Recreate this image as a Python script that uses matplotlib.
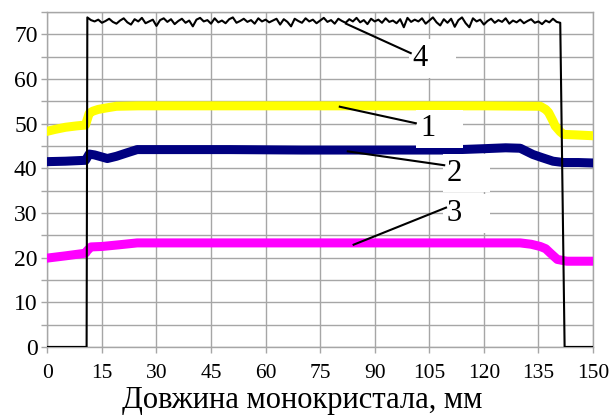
import numpy as np
import matplotlib
matplotlib.use('Agg')
import matplotlib.pyplot as plt
from matplotlib.ticker import MultipleLocator

plt.rcParams['font.family'] = ['Liberation Serif', 'DejaVu Serif']

# curve 1 (yellow)
x1 = [0, 2, 5, 8, 10.5, 11, 11.5, 12.5, 14, 16, 19, 25, 40, 60, 80, 100, 120,
      135.5, 137, 137.8, 139, 139.6, 141, 141.9, 145, 150]
y1 = [48.3, 48.7, 49.2, 49.5, 49.7, 51.0, 52.3, 52.8, 53.2, 53.5, 53.9, 54.0, 54.0,
      54.0, 54.0, 54.0, 54.0, 53.9, 53.2, 52.5, 50.6, 49.5, 48.2, 47.6, 47.5, 47.3]

# curve 2 (navy)
x2 = [0, 5, 10.5, 11.5, 13, 16.5, 19, 22, 24.7, 30, 50, 70, 90, 110, 120, 126,
      130, 133.5, 136, 139, 141.9, 146, 150]
y2 = [41.5, 41.6, 41.8, 43.2, 43.0, 42.2, 42.7, 43.5, 44.2, 44.2, 44.2, 44.1, 44.1,
      44.1, 44.4, 44.6, 44.5, 43.1, 42.4, 41.6, 41.3, 41.3, 41.2]

# curve 3 (magenta)
x3 = [0, 5, 10.5, 11, 12, 15, 20, 24.7, 40, 70, 100, 130, 133, 135.5, 137, 138.3,
      140.2, 142.8, 146, 150]
y3 = [19.9, 20.4, 21.0, 21.6, 22.4, 22.5, 22.9, 23.3, 23.3, 23.3, 23.3, 23.3, 23.0,
      22.5, 22.0, 21.0, 19.6, 19.2, 19.2, 19.2]

# curve 4 (black), noisy plateau sampled every 1 mm from 11 to 141
y4_plateau = [
    73.8, 73.2, 72.9, 73.3, 72.6, 73.0, 73.5, 72.8, 72.4, 73.1,
    73.6, 72.7, 72.2, 73.4, 72.9, 73.7, 72.5, 72.9, 73.3, 71.9,
    73.2, 73.6, 72.8, 73.4, 72.3, 73.0, 73.5, 72.6, 73.1, 71.8,
    73.3, 73.7, 72.9, 73.2, 72.4, 73.6, 72.7, 73.1, 72.5, 73.4,
    73.8, 72.6, 73.0, 73.5, 72.8, 73.2, 72.4, 73.6, 72.9, 73.3,
    72.7, 73.1, 73.5, 72.2, 73.4, 72.8, 71.8, 73.5, 73.0, 72.6,
    73.6, 72.9, 73.3, 72.5, 73.1, 73.7, 72.8, 73.2, 72.4, 73.5,
    73.0, 72.6, 73.4, 72.9, 73.7, 72.7, 73.2, 72.3, 73.5, 72.9,
    73.3, 72.6, 73.6, 72.8, 73.1, 72.5, 73.4, 71.6, 73.7, 72.8,
    73.3, 72.9, 73.6, 72.4, 73.1, 73.8, 72.7, 72.0, 73.4, 72.6,
    73.5, 71.7, 73.2, 73.8, 72.5, 71.6, 73.6, 72.9, 73.3, 72.2,
    73.0, 73.5, 72.6, 73.2, 72.8, 73.6, 72.4, 73.1, 72.7, 73.3,
    72.5, 73.0, 73.4, 72.6, 72.9, 72.3, 73.1, 72.7, 73.5, 72.8, 72.6]
x4 = np.concatenate(([0, 10.8], np.arange(11, 142), [142.2, 150]))
y4 = np.concatenate(([0, 0], y4_plateau, [0, 0]))

x_ticks = [0, 15, 30, 45, 60, 75, 90, 105, 120, 135, 150]
y_ticks = [0, 10, 20, 30, 40, 50, 60, 70]
x_label = 'Довжина монокристала, мм'

fig = plt.figure(figsize=(6.09, 4.16), dpi=100)
ax = fig.add_axes([0.0777, 0.166, 0.896, 0.805])

grid_c = '#a6a6a6'
ax.plot(x1, y1, color='#ffff00', lw=6.5, zorder=3)
ax.plot(x2, y2, color='#000080', lw=6.5, zorder=3)
ax.plot(x3, y3, color='#ff00ff', lw=6.5, zorder=3)
ax.plot(x4, y4, color='black', lw=1.5, zorder=4)

ax.set_xlim(0, 150)
ax.set_ylim(0, 75)
ax.set_xticks(x_ticks)
ax.set_yticks(y_ticks)
ax.yaxis.set_minor_locator(MultipleLocator(5))
ax.grid(True, which='both', color=grid_c, lw=1)
ax.set_axisbelow(True)
for s in ax.spines.values():
    s.set_color(grid_c)
    s.set_linewidth(1)
ax.tick_params(axis='both', which='both', direction='out', length=4, width=1,
               color=grid_c, labelcolor='black',
               labelfontfamily='Liberation Serif')
ax.tick_params(axis='x', pad=8, labelsize=15.5)
ax.tick_params(axis='y', pad=3, labelsize=17)
ax.set_xticklabels([str(v) for v in x_ticks])
ax.set_yticklabels([str(v) for v in y_ticks])

ax.set_xlabel(x_label, fontsize=22, fontfamily='Liberation Serif', va='baseline')
ax.xaxis.set_label_coords(0.467, -0.183)

# curve labels with leader lines
labels = ['4', '1', '2', '3']
lead_from = [(82.1, 72.4), (80.4, 53.8), (82.6, 43.8), (84.2, 22.9)]
lead_to = [(99.9, 65.8), (101.3, 50.1), (109.1, 40.7), (109.6, 31.2)]
text_at = [(100.6, 64.6), (102.6, 48.9), (110.0, 38.9), (110.0, 29.9)]
for lab, a, b, t in zip(labels, lead_from, lead_to, text_at):
    ax.text(t[0], t[1], lab + '   ', fontsize=22, ha='left', va='center', zorder=5,
            fontfamily='Liberation Serif',
            bbox=dict(boxstyle='square,pad=0.15', fc='white', ec='none'))
    ax.plot([a[0], b[0]], [a[1], b[1]], color='black', lw=1.5, zorder=6)

fig.savefig('out.png', dpi=100)
